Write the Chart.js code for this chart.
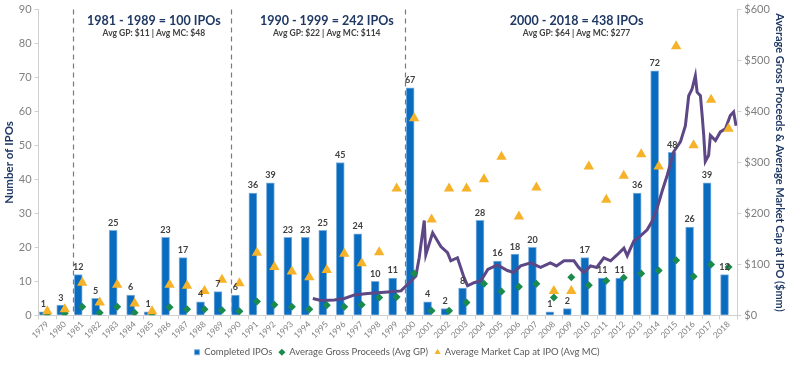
<!DOCTYPE html>
<html>
<head>
<meta charset="utf-8">
<script src="https://cdn.jsdelivr.net/npm/chart.js@4.4.0/dist/chart.umd.min.js"></script>
<style>
  html, body { margin: 0; padding: 0; background: #fff; }
  #wrap { width: 800px; height: 367px; }
</style>
</head>
<body>
<div id="wrap"><canvas id="ipoChart"></canvas></div>
<script>
'use strict';

// Chart data

let years = ['1979', '1980', '1981', '1982', '1983', '1984', '1985', '1986', '1987', '1988',
  '1989', '1990', '1991', '1992', '1993', '1994', '1995', '1996', '1997', '1998', '1999',
  '2000', '2001', '2002', '2003', '2004', '2005', '2006', '2007', '2008', '2009', '2010',
  '2011', '2012', '2013', '2014', '2015', '2016', '2017', '2018'];

let completedIpos = [1, 3, 12, 5, 25, 6, 1, 23, 17, 4, 7,
  6, 36, 39, 23, 23, 25, 45, 24, 10, 11,
  67, 4, 2, 8, 28, 16, 18, 20, 1, 2, 17, 11, 11, 36, 72, 48, 26, 39, 12];

let avgGrossProceeds = [3, 4, 17, 5, 17, 5, 3, 16, 12, 12, 10,
  8, 27, 21, 17, 12, 20, 17, 21, 35, 36,
  82, 9, 9, 25, 62, 47, 56, 62, 35, 75, 59, 68, 74, 82, 88, 108, 76, 100, 95];

let avgMarketCap = [8, 12, 64, 25, 60, 23, 8, 60, 58, 48, 70,
  63, 123, 95, 86, 75, 89, 121, 102, 124, 249,
  387, 188, 249, 249, 267, 311, 194, 251, 48, 48, 292, 227, 274, 316, 292, 528, 334, 423, 366];

// index line (purple): position in years, value on the $ axis
let indexDates = [1994.20, 1994.67, 1995.43, 1996.01, 1996.58, 1997.34, 1998.10, 1998.86,
  1999.25, 1999.63, 2000.10, 2000.29, 2000.58, 2000.67, 2001.06, 2001.53, 2001.91, 2002.10,
  2002.48, 2002.86, 2003.06, 2003.43, 2003.82, 2004.22, 2004.77, 2005.34, 2005.70, 2006.10,
  2006.67, 2007.24, 2007.80, 2008.15, 2008.58, 2009.15, 2009.42, 2009.72, 2010.10, 2010.45,
  2010.86, 2011.25, 2011.63, 2012.01, 2012.20, 2012.58, 2012.96, 2013.34, 2013.63, 2013.91,
  2014.20, 2014.49, 2014.86, 2015.25, 2015.53, 2015.72, 2015.91, 2016.10, 2016.20, 2016.39,
  2016.49, 2016.58, 2016.67, 2016.86, 2016.96, 2017.25, 2017.53, 2017.82, 2018.10, 2018.29,
  2018.43];
let indexValues = [33, 29, 30, 33, 40, 43, 45, 47,
  48, 61, 77, 113, 186, 119, 162, 135, 123, 107,
  113, 74, 58, 64, 68, 90, 99, 88, 84, 97,
  103, 94, 103, 97, 107, 107, 94, 84, 97, 94,
  113, 107, 119, 132, 117, 146, 156, 168, 185, 210,
  244, 275, 321, 341, 372, 431, 444, 470, 438, 431,
  392, 353, 302, 314, 353, 343, 360, 366, 392, 399,
  372];

let periodTitles = ['1981 - 1989 = 100 IPOs', '1990 - 1999 = 242 IPOs', '2000 - 2018 = 438 IPOs'];
let periodSubtitles = ['Avg GP: $11 | Avg MC: $48', 'Avg GP: $22 | Avg MC: $114', 'Avg GP: $64 | Avg MC: $277'];
let periodCenters = [1985.1, 1995.0, 2009.3];
let periodBreaks = [1980.5, 1989.5, 1999.5];

// Colours and fonts

let navy = '#1f3864';
let greyText = '#7f7f7f';
let axisGrey = '#d0d0d0';
let fontFamily = 'Lato, "Open Sans", sans-serif';

// Plugin: dashed period lines, period headings and bar value labels

let overlayPlugin = {
  id: 'overlay',
  beforeDatasetsDraw(chart) {
    let ctx = chart.ctx;
    let xs = chart.scales.xLine;
    let area = chart.chartArea;
    ctx.save();
    ctx.strokeStyle = '#7a7a7a';
    ctx.lineWidth = 1.2;
    ctx.setLineDash([5, 4]);
    for (let i = 0; i < periodBreaks.length; i++) {
      let x = Math.round(xs.getPixelForValue(periodBreaks[i])) + 0.5;
      ctx.beginPath();
      ctx.moveTo(x, area.top);
      ctx.lineTo(x, area.bottom);
      ctx.stroke();
    }
    ctx.restore();
  },
  afterDatasetsDraw(chart) {
    let ctx = chart.ctx;
    let xs = chart.scales.xLine;
    ctx.save();
    ctx.textAlign = 'center';
    ctx.textBaseline = 'middle';
    for (let i = 0; i < periodTitles.length; i++) {
      let x = xs.getPixelForValue(periodCenters[i]);
      ctx.fillStyle = navy;
      ctx.font = 'bold 12.5px ' + fontFamily;
      ctx.fillText(periodTitles[i], x, 21);
      ctx.fillStyle = '#404040';
      ctx.font = 'bold 8.5px ' + fontFamily;
      ctx.fillText(periodSubtitles[i], x, 33);
    }

    let meta = chart.getDatasetMeta(0);
    ctx.fillStyle = '#404040';
    ctx.font = 'bold 9px ' + fontFamily;
    ctx.textBaseline = 'bottom';
    meta.data.forEach(function (bar, i) {
      ctx.fillText(completedIpos[i], bar.x, bar.y - 3);
    });
    ctx.restore();
  }
};

let indexPoints = [];
for (let i = 0; i < indexDates.length; i++) {
  indexPoints.push({ x: indexDates[i], y: indexValues[i] });
}

const ctx = document.getElementById('ipoChart').getContext('2d');
const ipoChart = new Chart(ctx, {
  type: 'bar',
  data: {
    labels: years,
    datasets: [{
      label: 'Completed IPOs',
      data: completedIpos,
      backgroundColor: '#0a6cbf',
      borderColor: '#7fb0df',
      borderWidth: 1,
      barThickness: 8,
      pointStyle: 'rect',
      yAxisID: 'y',
      order: 4
    },
    {
      type: 'line',
      label: 'Index',
      data: indexPoints,
      xAxisID: 'xLine',
      yAxisID: 'y1',
      borderColor: '#5d4785',
      borderWidth: 3,
      pointRadius: 0,
      tension: 0,
      order: 3
    },
    {
      type: 'line',
      label: 'Average Gross Proceeds (Avg GP)',
      data: avgGrossProceeds,
      yAxisID: 'y1',
      showLine: false,
      pointStyle: 'rectRot',
      pointRadius: 4,
      backgroundColor: '#1b8a4d',
      borderColor: '#1b8a4d',
      borderWidth: 0,
      order: 2
    },
    {
      type: 'line',
      label: 'Average Market Cap at IPO (Avg MC)',
      data: avgMarketCap,
      yAxisID: 'y1',
      showLine: false,
      pointStyle: 'triangle',
      pointRadius: 6,
      backgroundColor: '#f6b228',
      borderColor: '#f6b228',
      borderWidth: 0,
      order: 1
    }]
  },
  options: {
    responsive: true,
    maintainAspectRatio: false,
    animation: false,
    layout: { padding: { top: 4, right: 8, left: 2, bottom: 0 } },
    plugins: {
      tooltip: { enabled: false },
      legend: {
        position: 'bottom',
        labels: {
          usePointStyle: true,
          boxWidth: 5,
          boxHeight: 5,
          padding: 7,
          color: '#595959',
          font: { family: fontFamily, size: 9.5 },
          filter: function (item) {
            return item.datasetIndex !== 1;
          },
          sort: function (a, b) {
            return a.datasetIndex - b.datasetIndex;
          }
        }
      }
    },
    scales: {
      x: {
        offset: true,
        grid: { display: true, offset: true, drawOnChartArea: false, drawTicks: true, tickLength: 4, color: axisGrey },
        border: { color: axisGrey },
        ticks: {
          color: greyText,
          minRotation: 45,
          maxRotation: 45,
          autoSkip: false,
          padding: 0,
          font: { family: fontFamily, size: 8.5 }
        }
      },
      xLine: {
        type: 'linear',
        display: false,
        min: 1978.5,
        max: 2018.5,
        offset: false
      },
      y: {
        position: 'left',
        min: 0,
        max: 90,
        ticks: {
          stepSize: 10,
          color: greyText,
          padding: 3,
          font: { family: fontFamily, size: 11 }
        },
        grid: { drawOnChartArea: false, drawTicks: true, tickLength: 4, color: axisGrey },
        border: { color: axisGrey },
        title: {
          display: true,
          text: 'Number of IPOs',
          color: navy,
          padding: 0,
          font: { family: fontFamily, size: 11.5, weight: 'bold' }
        }
      },
      y1: {
        position: 'right',
        min: 0,
        max: 600,
        ticks: {
          stepSize: 100,
          color: greyText,
          padding: 3,
          font: { family: fontFamily, size: 11 },
          callback: function (value) {
            return '$' + value;
          }
        },
        grid: { drawOnChartArea: false, drawTicks: true, tickLength: 4, color: axisGrey },
        border: { color: axisGrey },
        title: {
          display: true,
          text: 'Average Gross Proceeds & Average Market Cap at IPO ($mm)',
          color: navy,
          padding: { top: 6, bottom: 0 },
          font: { family: fontFamily, size: 11, weight: 'bold' }
        }
      }
    }
  },
  plugins: [overlayPlugin]
});
</script>
</body>
</html>
